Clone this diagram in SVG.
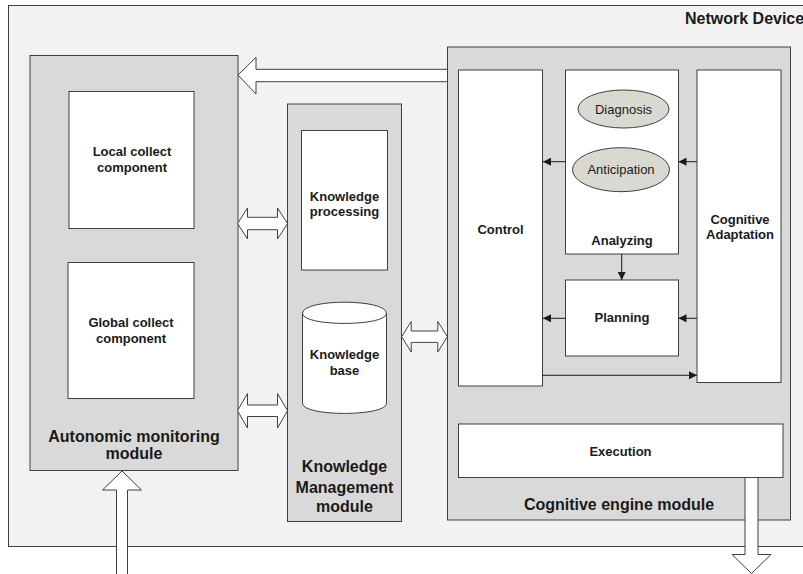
<svg xmlns="http://www.w3.org/2000/svg" width="803" height="574" viewBox="0 0 803 574">
<defs>
<style>
.bg{fill:#f2f2f2;stroke:#404040;stroke-width:1}
.mod{fill:#d9d9d9;stroke:#404040;stroke-width:1}
.box{fill:#ffffff;stroke:#404040;stroke-width:1}
.ell{fill:#d9d9d2;stroke:#404040;stroke-width:1}
.big{fill:#ffffff;stroke:#404040;stroke-width:1}
.ln{fill:none;stroke:#1a1a1a;stroke-width:1}
text{font-family:"Liberation Sans",Arial,sans-serif;fill:#1a1a1a;text-anchor:middle}
.b16{font-size:16px;font-weight:bold}
.b13{font-size:13px;font-weight:bold}
.r13{font-size:13px}
</style>
<marker id="ah" viewBox="0 0 8 8" refX="8" refY="4" markerWidth="8" markerHeight="8" markerUnits="userSpaceOnUse" orient="auto">
<path d="M0,0 L8,4 L0,8 Z" fill="#1a1a1a"/>
</marker>
</defs>

<g id="network-device">
<rect class="bg" x="8.5" y="5.5" width="810" height="541"/>
<text class="b16" x="685" y="24" style="text-anchor:start">Network Device</text>
</g>

<g id="autonomic-monitoring-module">
<rect class="mod" x="30" y="55.5" width="208" height="415"/>
<text class="b16" x="134" y="441.5">Autonomic monitoring</text>
<text class="b16" x="134" y="459">module</text>
</g>

<g id="local-collect">
<rect class="box" x="69" y="91.5" width="125" height="137"/>
<text class="b13" x="132" y="156">Local collect</text>
<text class="b13" x="132" y="171.5">component</text>
</g>

<g id="global-collect">
<rect class="box" x="68" y="262.5" width="126" height="136"/>
<text class="b13" x="131" y="326.5">Global collect</text>
<text class="b13" x="131" y="342.5">component</text>
</g>

<g id="knowledge-management-module">
<rect class="mod" x="287.5" y="104" width="114" height="417.5"/>
<text class="b16" x="344.5" y="472">Knowledge</text>
<text class="b16" x="344.5" y="492.5">Management</text>
<text class="b16" x="344.5" y="511.5">module</text>
</g>

<g id="knowledge-processing">
<rect class="box" x="301.5" y="130.5" width="86" height="139.5"/>
<text class="b13" x="344.5" y="201">Knowledge</text>
<text class="b13" x="344.5" y="216">processing</text>
</g>

<g id="knowledge-base">
<path class="box" d="M302.5,313.3 C302.5,298.5 386.5,298.5 386.5,313.3 L386.5,403.3 C386.5,416.8 302.5,416.8 302.5,403.3 Z"/>
<path class="ln" style="stroke:#404040" d="M302.5,313.3 C302.5,326.8 386.5,326.8 386.5,313.3"/>
<text class="b13" x="344.5" y="358.5">Knowledge</text>
<text class="b13" x="344.5" y="374.5">base</text>
</g>

<g id="cognitive-engine-module">
<rect class="mod" x="447.5" y="47" width="343" height="473"/>
<text class="b16" x="619" y="510">Cognitive engine module</text>
</g>

<g id="control">
<rect class="box" x="458.5" y="70" width="84" height="316"/>
<text class="b13" x="500.5" y="233.5">Control</text>
</g>

<g id="analyzing">
<rect class="box" x="565.5" y="70" width="113" height="184"/>
<text class="b13" x="622" y="245">Analyzing</text>
</g>

<g id="diagnosis">
<ellipse class="ell" cx="623.5" cy="109" rx="45.5" ry="19"/>
<text class="r13" x="623.5" y="113.5">Diagnosis</text>
</g>

<g id="anticipation">
<ellipse class="ell" cx="621" cy="169.7" rx="48.5" ry="22"/>
<text class="r13" x="621" y="174">Anticipation</text>
</g>

<g id="cognitive-adaptation">
<rect class="box" x="697" y="70" width="84" height="312.5"/>
<text class="b13" x="740" y="223.5">Cognitive</text>
<text class="b13" x="740" y="238.5">Adaptation</text>
</g>

<g id="planning">
<rect class="box" x="565.5" y="280" width="113" height="76"/>
<text class="b13" x="622" y="322">Planning</text>
</g>

<g id="execution">
<rect class="box" x="458.5" y="424" width="324.5" height="53.5"/>
<text class="b13" x="620.5" y="455.5">Execution</text>
</g>

<g id="connectors">
<path class="big" d="M238,75 L256,57.3 L256,69.3 L447.5,69.3 L447.5,81.7 L256,81.7 L256,94 Z"/>
<path class="big" d="M237.5,223.5 L247.5,208 L247.5,217.3 L277.5,217.3 L277.5,208 L287.5,223.5 L277.5,239 L277.5,229.7 L247.5,229.7 L247.5,239 Z"/>
<path class="big" d="M237.5,410.7 L247.5,393.5 L247.5,405 L277.5,405 L277.5,393.5 L287.5,410.7 L277.5,428 L277.5,416.5 L247.5,416.5 L247.5,428 Z"/>
<path class="big" d="M401.7,336.7 L411.2,321.5 L411.2,331 L437.8,331 L437.8,321.5 L447.3,336.7 L437.8,352 L437.8,342.4 L411.2,342.4 L411.2,352 Z"/>
<path class="big" d="M116.5,580 L116.5,490 L102.5,490 L122,471 L141.5,490 L127.5,490 L127.5,580 Z"/>
<path class="big" d="M745,477.5 L758,477.5 L758,554.5 L771,554.5 L751.5,573.5 L732,554.5 L745,554.5 Z"/>
<line class="ln" x1="565.5" y1="161.7" x2="543" y2="161.7" marker-end="url(#ah)"/>
<line class="ln" x1="697" y1="161.7" x2="678.5" y2="161.7" marker-end="url(#ah)"/>
<line class="ln" x1="621.7" y1="254" x2="621.7" y2="280" marker-end="url(#ah)"/>
<line class="ln" x1="565.5" y1="318.3" x2="543" y2="318.3" marker-end="url(#ah)"/>
<line class="ln" x1="697" y1="318.3" x2="678.5" y2="318.3" marker-end="url(#ah)"/>
<line class="ln" x1="542.5" y1="375.3" x2="697" y2="375.3" marker-end="url(#ah)"/>
</g>
</svg>
